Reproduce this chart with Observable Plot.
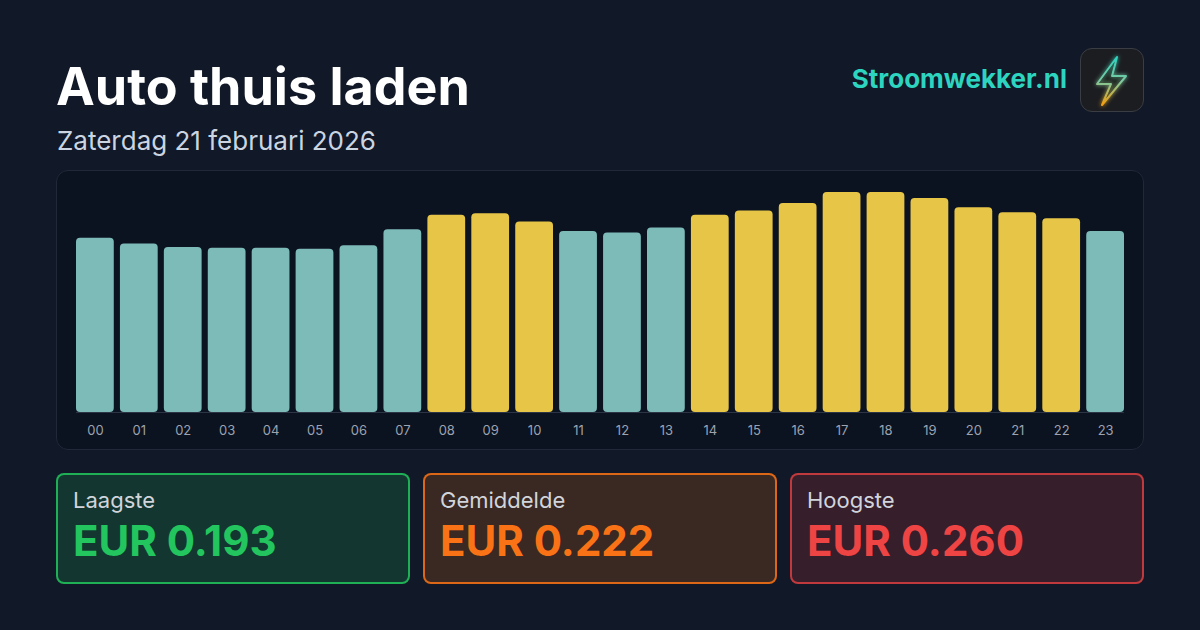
<!DOCTYPE html>
<html>
<head>
<meta charset="utf-8">
<script src="https://cdn.jsdelivr.net/npm/d3@7"></script>
<script src="https://cdn.jsdelivr.net/npm/@observablehq/plot@0.6"></script>
<style>
  html, body { margin: 0; padding: 0; }
  body { width: 1200px; height: 630px; background: #111827; position: relative; overflow: hidden; font-family: Inter, "Noto Sans", sans-serif; }
  .abs { position: absolute; white-space: nowrap; }
  #title { left: 56px; top: 61px; font-size: 52px; line-height: 52px; font-weight: 700; color: #ffffff; }
  #subtitle { left: 57px; top: 128px; font-size: 26px; line-height: 26px; font-weight: 400; color: #cbd5e1; }
  #brand { right: 133px; top: 66px; font-size: 26px; line-height: 26px; font-weight: 700; color: #2dd4bf; }
  #logo { left: 1080px; top: 48px; width: 64px; height: 64px; box-sizing: border-box; border: 1px solid #3a3d44; border-radius: 12px; background: #1c1d21; }
  #panel { left: 56px; top: 170px; width: 1088px; height: 280px; box-sizing: border-box; border: 1.5px solid #1f2937; border-radius: 12px; background: #0b1220; }
  #chart { left: 56px; top: 170px; }
  .card { position: absolute; top: 473px; width: 354px; height: 111px; box-sizing: border-box; border-radius: 8px; border: 2px solid; }
  .card .lab { position: absolute; left: 15px; top: 14px; font-size: 22px; line-height: 22px; color: #d1d5db; }
  .card .val { position: absolute; left: 15px; top: 45px; font-size: 42px; line-height: 42px; font-weight: 700; }
</style>
</head>
<body>
<div id="title" class="abs">Auto thuis laden</div>
<div id="subtitle" class="abs">Zaterdag 21 februari 2026</div>
<div id="brand" class="abs">Stroomwekker.nl</div>
<div id="logo" class="abs">
  <svg width="62" height="62" viewBox="0 0 62 62">
    <defs>
      <linearGradient id="bolt" x1="0" y1="0" x2="0" y2="1">
        <stop offset="0" stop-color="#2dd4bf"/>
        <stop offset="0.5" stop-color="#7cc9a0"/>
        <stop offset="1" stop-color="#f59e0b"/>
      </linearGradient>
      <filter id="glow" x="-50%" y="-50%" width="200%" height="200%">
        <feGaussianBlur stdDeviation="2.2" result="b"/>
        <feMerge><feMergeNode in="b"/><feMergeNode in="SourceGraphic"/></feMerge>
      </filter>
    </defs>
    <path d="M36 8 L16 35 L30 35 L21 56 L45 27 L31 27 Z" fill="rgba(30,30,30,0.6)" stroke="url(#bolt)" stroke-width="2" stroke-linejoin="round" filter="url(#glow)"/>
  </svg>
</div>
<div id="panel" class="abs"></div>
<div id="chart" class="abs"></div>
<div id="cards"></div>
<script>
const hours = ["00","01","02","03","04","05","06","07","08","09","10","11","12","13","14","15","16","17","18","19","20","21","22","23"];
const prices = [0.206,0.199,0.195,0.194,0.194,0.193,0.197,0.216,0.233,0.235,0.225,0.214,0.212,0.218,0.233,0.238,0.247,0.260,0.260,0.253,0.242,0.236,0.229,0.214];
const statLabels = ["Laagste","Gemiddelde","Hoogste"];
const statValues = [0.193, 0.222, 0.260];
const statColors = ["#22c55e","#f97316","#ef4444"];
const statBg = ["rgba(34,197,94,0.18)","rgba(249,115,22,0.18)","rgba(239,68,68,0.17)"];
const statBorder = ["rgba(34,197,94,0.85)","rgba(249,115,22,0.85)","rgba(239,68,68,0.75)"];

const data = hours.map((h, i) => ({hour: h, price: prices[i], level: prices[i] > statValues[1] ? "hoog" : "laag"}));

const chart = Plot.plot({
  width: 1088,
  height: 280,
  marginLeft: 20,
  marginRight: 20,
  marginTop: 0,
  marginBottom: 38,
  style: {background: "transparent", color: "#9ca3af", fontFamily: "Inter, sans-serif", fontSize: "13px"},
  x: {domain: hours, paddingInner: 0.14, paddingOuter: 0, round: false, label: null, tickSize: 0, tickPadding: 13},
  y: {domain: [0, d3.max(prices) * 1.1], axis: null},
  color: {domain: ["laag","hoog"], range: ["#7dbbb9","#e6c547"]},
  marks: [
    Plot.barY(data, {x: "hour", y: "price", fill: "level", rx: 4}),
    Plot.ruleY([0], {stroke: "#2b3546", strokeWidth: 1})
  ]
});
document.getElementById("chart").appendChild(chart);

const cardsEl = document.getElementById("cards");
const lefts = [56, 423, 790];
statLabels.forEach((lab, i) => {
  const c = document.createElement("div");
  c.className = "card";
  c.style.left = lefts[i] + "px";
  c.style.background = statBg[i];
  c.style.borderColor = statBorder[i];
  const l = document.createElement("div");
  l.className = "lab";
  l.textContent = lab;
  const v = document.createElement("div");
  v.className = "val";
  v.style.color = statColors[i];
  v.textContent = "EUR " + statValues[i].toFixed(3);
  c.appendChild(l);
  c.appendChild(v);
  cardsEl.appendChild(c);
});
</script>
</body>
</html>
